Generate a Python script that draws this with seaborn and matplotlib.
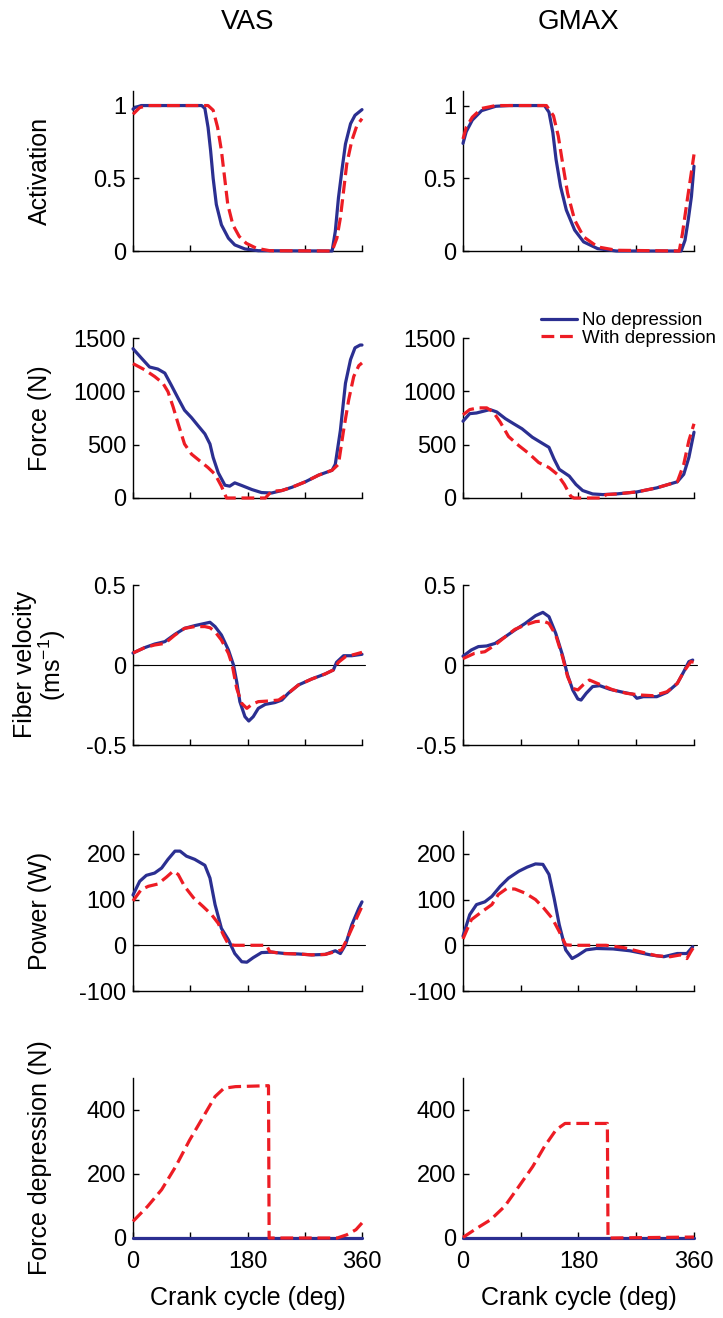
import numpy as np
import pandas as pd
import seaborn as sns
import matplotlib.pyplot as plt
from matplotlib.lines import Line2D

sns.set_theme(style="ticks")
plt.rcParams['font.family'] = ['Liberation Sans', 'DejaVu Sans']
plt.rcParams['mathtext.fontset'] = 'custom'
plt.rcParams['mathtext.rm'] = 'Liberation Sans'
plt.rcParams['axes.unicode_minus'] = False
plt.rcParams['text.color'] = 'black'
plt.rcParams['axes.labelcolor'] = 'black'
plt.rcParams['xtick.color'] = 'black'
plt.rcParams['ytick.color'] = 'black'

# muscles / conditions
muscles = ["VAS", "GMAX"]
conditions = ["No depression", "With depression"]

# ---- Activation
vas_act_deg_nd = [0, 3, 13, 108, 113, 118, 122, 126, 131, 139, 150, 160, 176, 197, 313, 318, 323, 329, 334, 342, 349, 360]
vas_act_nd = [0.975, 0.986, 1.0, 1.0, 0.98, 0.85, 0.69, 0.50, 0.32, 0.18, 0.088, 0.042, 0.014, 0.002, 0.0, 0.134, 0.366, 0.574, 0.736, 0.875, 0.933, 0.972]
vas_act_deg_wd = [0, 10.5, 24, 118, 126, 133, 139, 144, 149, 157, 167, 178, 194, 215, 313, 320.5, 326, 331, 336, 344, 352, 360]
vas_act_wd = [0.94, 0.986, 1.0, 1.0, 0.968, 0.85, 0.69, 0.505, 0.32, 0.18, 0.10, 0.053, 0.019, 0.002, 0.0, 0.088, 0.227, 0.412, 0.597, 0.759, 0.863, 0.91]
gmax_act_deg_nd = [0, 5, 14.5, 29, 51, 72, 127, 134, 140, 145, 152, 161, 174, 188, 210, 239, 340, 346, 351, 356, 360]
gmax_act_nd = [0.74, 0.82, 0.9, 0.965, 0.995, 1.0, 1.0, 0.954, 0.815, 0.63, 0.444, 0.282, 0.144, 0.0625, 0.016, 0.0, 0.0, 0.074, 0.213, 0.375, 0.583]
gmax_act_deg_wd = [0, 5, 14.5, 29, 51, 130, 141, 148.5, 156, 163, 174, 188, 210, 239, 337, 342, 348, 355, 360]
gmax_act_wd = [0.77, 0.85, 0.92, 0.98, 1.0, 1.0, 0.93, 0.79, 0.583, 0.398, 0.213, 0.097, 0.028, 0.005, 0.0, 0.12, 0.306, 0.514, 0.664]

# ---- Force (N)
vas_force_deg_nd = [0, 13, 26, 39, 50, 60, 71, 81, 92, 102, 113, 121, 126, 134, 144.5, 152, 160, 171, 187, 202, 218, 234, 250, 271, 292, 313, 318, 326, 334, 342, 349, 357, 360]
vas_force_nd = [1400, 1313, 1228, 1209, 1171, 1060, 934, 823, 753, 680, 601, 506, 380, 237, 120, 111, 142, 117, 79, 51, 47, 70, 101, 152, 215, 260, 316, 633, 1076, 1298, 1408, 1434, 1434]
vas_force_deg_wd = [0, 18, 34, 47, 55, 63, 71, 81, 92, 105, 118, 129, 139, 147, 155, 208, 213, 218, 234, 250, 271, 292, 313, 323, 331, 339, 347, 355, 360]
vas_force_wd = [1260, 1203, 1139, 1076, 997, 855, 696, 506, 411, 348, 285, 222, 111, 0, 0, 0, 32, 63, 70, 101, 152, 215, 260, 316, 633, 918, 1139, 1241, 1266]
gmax_force_deg_nd = [0, 10.5, 21, 31.5, 42, 52.5, 66, 79, 92, 108, 123.5, 134, 142, 150, 165.5, 176, 186.5, 202, 218, 239, 271, 302, 334, 344, 352, 360]
gmax_force_nd = [720, 791, 797, 813, 829, 807, 744, 696, 649, 570, 513, 475, 364, 269, 206, 127, 70, 38, 32, 38, 57, 95, 152, 222, 380, 617]
gmax_force_deg_wd = [0, 10.5, 23.6, 37, 47, 58, 71, 87, 102.5, 118, 134, 147, 158, 168, 173, 218, 223, 239, 271, 302, 334, 344, 352, 360]
gmax_force_wd = [780, 829, 845, 845, 807, 712, 576, 491, 418, 332, 285, 222, 127, 16, 0, 0, 32, 38, 57, 95, 152, 316, 538, 696]

# ---- Fiber velocity (m/s)
vas_vel_deg_nd = [0, 18, 34, 50, 66, 81, 97, 113, 121, 129, 139, 150, 158, 163, 168, 176, 182, 189, 197, 208, 223, 234, 244, 260, 281, 302, 315, 320, 331, 344, 360]
vas_vel_nd = [0.075, 0.108, 0.131, 0.146, 0.192, 0.229, 0.246, 0.26, 0.267, 0.24, 0.1875, 0.094, 0.0, -0.104, -0.229, -0.323, -0.35, -0.323, -0.271, -0.246, -0.235, -0.219, -0.177, -0.125, -0.0875, -0.056, -0.031, 0.017, 0.058, 0.058, 0.067]
vas_vel_deg_wd = [0, 18, 34, 50, 66, 81, 97, 113, 121, 129, 139, 150, 156, 163, 171, 179, 187, 197, 213, 229, 244, 260, 281, 302, 315, 323, 334, 349, 360]
vas_vel_wd = [0.075, 0.108, 0.125, 0.135, 0.1875, 0.229, 0.24, 0.24, 0.233, 0.208, 0.156, 0.073, 0.0, -0.146, -0.24, -0.271, -0.246, -0.229, -0.225, -0.219, -0.177, -0.125, -0.0875, -0.056, -0.031, 0.017, 0.052, 0.067, 0.079]
gmax_vel_deg_nd = [0, 13, 24, 37, 50, 66, 81, 97, 113, 124.5, 134, 144.5, 155, 163, 171, 179, 184, 192, 202, 213, 229, 250, 265, 271, 281, 302, 318, 334, 344, 352, 358]
gmax_vel_nd = [0.055, 0.094, 0.115, 0.119, 0.135, 0.177, 0.219, 0.26, 0.308, 0.329, 0.302, 0.198, 0.0625, -0.0625, -0.156, -0.2125, -0.219, -0.177, -0.135, -0.129, -0.152, -0.171, -0.183, -0.208, -0.198, -0.198, -0.171, -0.115, -0.042, 0.021, 0.031]
gmax_vel_deg_wd = [0, 18, 34, 50, 66, 81, 97, 113, 124.5, 134, 144.5, 155, 163, 171, 179, 187, 197, 213, 234, 255, 276, 297, 318, 334, 344, 355, 360]
gmax_vel_wd = [0.04, 0.073, 0.083, 0.125, 0.177, 0.223, 0.25, 0.271, 0.275, 0.26, 0.1875, 0.052, -0.073, -0.146, -0.156, -0.125, -0.094, -0.121, -0.156, -0.177, -0.1875, -0.192, -0.167, -0.115, -0.042, 0.021, 0.017]

# ---- Power (W)
vas_pow_deg_nd = [0, 10.5, 21, 34, 45, 55, 66, 74, 84, 97, 113, 121, 129, 139, 150, 160, 171, 179, 189, 202, 218, 239, 260, 281, 302, 318, 326, 334, 344, 355, 360]
vas_pow_nd = [110, 140, 153, 158, 169, 188, 206, 206, 195, 188, 175, 147, 89, 37, 12, -18, -36, -37, -27, -16, -15, -18, -19, -21, -20, -12, -18, 1, 45, 81, 95]
vas_pow_deg_wd = [0, 13, 24, 39, 52.5, 63, 71, 81, 95, 110, 123.5, 134, 142, 150, 160, 210, 215, 234, 260, 281, 302, 318, 328, 336, 349, 360]
vas_pow_wd = [97, 122, 129, 134, 149, 162, 155, 129, 104, 85, 67, 48, 23, 2, 0, 0, -14, -18, -19, -21, -20, -14, -10, 12, 52, 85]
gmax_pow_deg_nd = [0, 10.5, 21, 34, 45, 58, 71, 87, 100, 113, 124.5, 134, 142, 150, 160, 170, 179, 192, 208, 234, 260, 292, 313, 334, 349, 358]
gmax_pow_nd = [20, 67, 89, 95, 107, 129, 147, 162, 171, 178, 177, 155, 103, 45, -10, -29, -22, -10, -7, -8, -12, -21, -25, -18, -18, -3]
gmax_pow_deg_wd = [0, 13, 29, 45, 55, 68, 81, 97, 113, 126, 139, 150, 160, 171, 223, 250, 276, 302, 323, 339, 349, 355, 360]
gmax_pow_wd = [14, 56, 73, 89, 111, 124, 123, 114, 100, 81, 59, 30, 1, 0, 0, -5, -14, -23, -25, -21, -29, -14, -3]

# ---- Force depression (N)
vas_fd_deg_nd = [0, 360]
vas_fd_nd = [0, 0]
vas_fd_deg_wd = [0, 23, 45, 67, 89, 110.5, 129, 143, 161, 213, 214, 220, 321, 336, 350.5, 360]
vas_fd_wd = [52, 99, 151, 223, 306, 379, 442, 468, 473, 476, 0, 0, 0, 10, 26, 47]
gmax_fd_deg_nd = [0, 360]
gmax_fd_nd = [0, 0]
gmax_fd_deg_wd = [0, 22, 43, 65, 87, 108.6, 127, 145, 159, 174, 225, 226, 230, 360]
gmax_fd_wd = [2, 31, 57, 99, 161, 223, 286, 338, 358, 358, 358, 0, 0, 3]

row_labels = ["Activation", "Force (N)", "Fiber velocity\n(ms$^{-1}$)", "Power (W)", "Force depression (N)"]
row_ylims = [(0, 1.1), (0, 1500), (-0.5, 0.5), (-100, 250), (0, 500)]
row_yticks = [[0, 0.5, 1], [0, 500, 1000, 1500], [-0.5, 0, 0.5], [-100, 0, 100, 200], [0, 200, 400]]
row_yticklabels = [["0", "0.5", "1"], ["0", "500", "1000", "1500"], ["-0.5", "0", "0.5"],
                   ["-100", "0", "100", "200"], ["0", "200", "400"]]
zero_line_rows = [2, 3]

panels = [
    [(vas_act_deg_nd, vas_act_nd, vas_act_deg_wd, vas_act_wd), (gmax_act_deg_nd, gmax_act_nd, gmax_act_deg_wd, gmax_act_wd)],
    [(vas_force_deg_nd, vas_force_nd, vas_force_deg_wd, vas_force_wd), (gmax_force_deg_nd, gmax_force_nd, gmax_force_deg_wd, gmax_force_wd)],
    [(vas_vel_deg_nd, vas_vel_nd, vas_vel_deg_wd, vas_vel_wd), (gmax_vel_deg_nd, gmax_vel_nd, gmax_vel_deg_wd, gmax_vel_wd)],
    [(vas_pow_deg_nd, vas_pow_nd, vas_pow_deg_wd, vas_pow_wd), (gmax_pow_deg_nd, gmax_pow_nd, gmax_pow_deg_wd, gmax_pow_wd)],
    [(vas_fd_deg_nd, vas_fd_nd, vas_fd_deg_wd, vas_fd_wd), (gmax_fd_deg_nd, gmax_fd_nd, gmax_fd_deg_wd, gmax_fd_wd)],
]

blue = "#2B2F91"
red = "#ED1C24"
palette = {"No depression": blue, "With depression": red}
dashes = {"No depression": "", "With depression": (4, 1.8)}
LW = 2.3


def panel_frame(deg_nd, val_nd, deg_wd, val_wd):
    a = pd.DataFrame({"deg": deg_nd, "value": val_nd, "condition": conditions[0]})
    b = pd.DataFrame({"deg": deg_wd, "value": val_wd, "condition": conditions[1]})
    return pd.concat([a, b], ignore_index=True)


fig = plt.figure(figsize=(7.23, 13.18), dpi=100)
W, H = 723, 1318
col_left = [133, 463]
col_width = [229, 231]
row_bottom = [251, 498, 745, 991, 1238]
ax_h = 160

for r in range(5):
    for c in range(2):
        ax = fig.add_axes([col_left[c] / W, 1 - row_bottom[r] / H, col_width[c] / W, ax_h / H])
        df = panel_frame(*panels[r][c])
        sns.lineplot(data=df, x="deg", y="value", hue="condition", style="condition",
                     hue_order=conditions, style_order=conditions, palette=palette,
                     dashes=dashes, sort=False, estimator=None, linewidth=LW,
                     legend=False, ax=ax)
        for ln in ax.lines:
            ln.set_clip_on(False)
            ln.set_zorder(3)
            ln.set_dash_capstyle("butt")
        if r in zero_line_rows:
            ax.axhline(0, xmin=0, xmax=1.015, color="black", lw=0.8, zorder=0.5, clip_on=False)

        ax.set_xlim(0, 360)
        ax.set_ylim(*row_ylims[r])
        ax.set_yticks(row_yticks[r])
        ax.set_yticklabels(row_yticklabels[r])
        ax.set_xticks([0, 90, 180, 270, 360])
        if r == 4:
            ax.set_xticklabels(["0", "", "180", "", "360"])
            ax.set_xlabel("Crank cycle (deg)", fontsize=18, labelpad=10)
        else:
            ax.set_xticklabels([])
            ax.set_xlabel("")
        if c == 0:
            ax.set_ylabel(row_labels[r], fontsize=18, va="center", linespacing=1.0)
            ax.yaxis.set_label_coords(-0.405, 0.5)
        else:
            ax.set_ylabel("")
        if r == 0:
            ax.text(0.5, 1.43, muscles[c], transform=ax.transAxes, ha="center", va="center", fontsize=20)

        sns.despine(ax=ax)
        for s in ["left", "bottom"]:
            ax.spines[s].set_linewidth(1.0)
            ax.spines[s].set_color("black")
        ax.tick_params(axis="both", direction="in", length=4, width=1, colors="black", labelsize=17)
        ax.tick_params(axis="y", pad=5)
        ax.tick_params(axis="x", pad=9)

handles = [Line2D([0], [0], color=blue, lw=LW),
           Line2D([0], [0], color=red, lw=LW, dashes=(4, 1.8))]
fig.legend(handles, conditions, loc="upper left", bbox_to_anchor=(541 / W, 1 - 312 / H),
           frameon=False, fontsize=13.5, borderpad=0, borderaxespad=0, handlelength=1.9,
           handletextpad=0.3, labelspacing=0.02)

fig.savefig("out.png", dpi=100)
